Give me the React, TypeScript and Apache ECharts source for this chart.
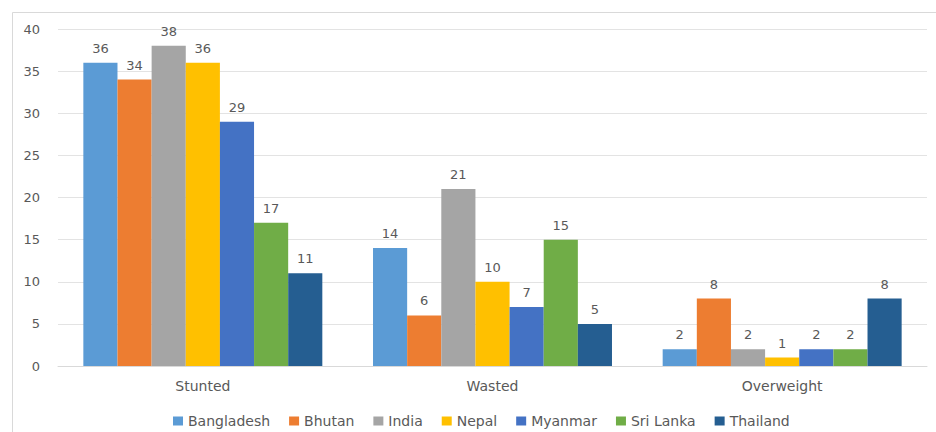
import React, { useEffect, useRef } from "react";
import * as echarts from "echarts";

const categories = ["Stunted", "Wasted", "Overweight"];
const countries = ["Bangladesh", "Bhutan", "India", "Nepal", "Myanmar", "Sri Lanka", "Thailand"];
const bangladesh = [36, 14, 2];
const bhutan = [34, 6, 8];
const india = [38, 21, 2];
const nepal = [36, 10, 1];
const myanmar = [29, 7, 2];
const sriLanka = [17, 15, 2];
const thailand = [11, 5, 8];
const yTicks = { min: 0, max: 40, interval: 5 };
const seriesValues = [bangladesh, bhutan, india, nepal, myanmar, sriLanka, thailand];
const colors = ["#5B9BD5", "#ED7D31", "#A5A5A5", "#FFC000", "#4472C4", "#70AD47", "#255E91"];

export default function App() {
  const ref = useRef<HTMLDivElement>(null);
  useEffect(() => {
    if (!ref.current) return;
    const chart = echarts.init(ref.current, null, { renderer: "svg" });
    const font = "'DejaVu Sans', 'Open Sans', sans-serif";
    const txt = "#595959";
    chart.setOption({
      animation: false,
      backgroundColor: "#ffffff",
      textStyle: { fontFamily: font },
      graphic: [
        {
          type: "rect",
          shape: { x: 12.5, y: 12.5, width: 940, height: 440 },
          style: { fill: "none", stroke: "#d9d9d9", lineWidth: 1 },
          silent: true,
        },
      ],
      grid: { left: 58, right: 9, top: 29, bottom: 66, containLabel: false },
      legend: {
        data: countries,
        top: 409,
        left: 168,
        icon: "rect",
        itemWidth: 10,
        itemHeight: 9,
        itemGap: 19,
        textStyle: { color: txt, fontSize: 14, fontFamily: font },
      },
      xAxis: {
        type: "category",
        data: categories,
        axisLine: { lineStyle: { color: "#d9d9d9" } },
        axisTick: { show: false },
        axisLabel: { color: txt, fontSize: 14, margin: 13, fontFamily: font },
      },
      yAxis: {
        type: "value",
        min: yTicks.min,
        max: yTicks.max,
        interval: yTicks.interval,
        axisLine: { show: false },
        axisTick: { show: false },
        splitLine: { lineStyle: { color: "#e3e3e3" } },
        axisLabel: { color: txt, fontSize: 13, margin: 18, fontFamily: font },
      },
      series: countries.map((name, i) => ({
        name,
        type: "bar",
        data: seriesValues[i],
        barGap: "0%",
        barCategoryGap: "17.5%",
        itemStyle: { color: colors[i] },
        label: {
          show: true,
          position: "top",
          distance: 8,
          color: txt,
          fontSize: 13,
          fontFamily: font,
        },
      })),
    });
    return () => chart.dispose();
  }, []);
  return (
    <div
      ref={ref}
      style={{ position: "fixed", left: 0, top: 0, width: 936, height: 432 }}
    />
  );
}
